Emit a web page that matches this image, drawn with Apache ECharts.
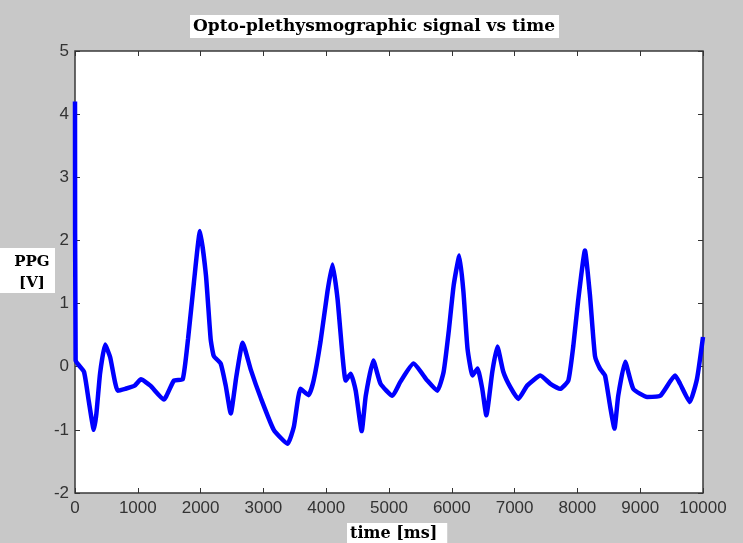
<!DOCTYPE html>
<html>
<head>
<meta charset="utf-8">
<script src="https://cdn.jsdelivr.net/npm/echarts@6/dist/echarts.min.js"></script>
<style>
  html, body { margin: 0; padding: 0; background: #c8c8c8; }
  #chart { width: 743px; height: 543px; }
</style>
</head>
<body>
<div id="chart"></div>
<script>
// values (time in ms, PPG in V)
var time_ms = [0, 10, 143, 220, 300, 340, 400, 480, 560, 680, 800, 950, 1050, 1200, 1415, 1575, 1715,
    1800, 1895, 1990, 2085, 2160, 2210, 2320, 2400, 2480, 2570, 2670, 2800, 2960, 3165, 3385, 3485,
    3590, 3720, 3800, 3910, 4020, 4100, 4180, 4260, 4310, 4390, 4470, 4565, 4630, 4750, 4865, 5055,
    5180, 5390, 5610, 5770, 5870, 5950, 6030, 6120, 6185, 6250, 6330, 6410, 6485, 6550, 6645, 6725,
    6820, 6930, 7060, 7200, 7410, 7570, 7725, 7855, 7935, 8010, 8120, 8200, 8280, 8360, 8440, 8520,
    8590, 8650, 8760, 8890, 9110, 9320, 9555, 9635, 9790, 9905, 10000];
var ppg_v = [4.2, 0.1, -0.08, -0.55, -1.0, -0.75, -0.1, 0.35, 0.15, -0.38, -0.35, -0.3, -0.2, -0.3, -0.52, -0.22, -0.2,
    0.44, 1.35, 2.15, 1.45, 0.44, 0.17, 0.05, -0.3, -0.74, -0.15, 0.38, -0.05, -0.5, -1.0, -1.22, -0.95,
    -0.35, -0.45, -0.22, 0.4, 1.19, 1.62, 1.08, 0.17, -0.22, -0.11, -0.38, -1.02, -0.46, 0.1, -0.27, -0.46,
    -0.24, 0.05, -0.22, -0.38, -0.08, 0.55, 1.29, 1.76, 1.19, 0.29, -0.14, -0.03, -0.35, -0.77, -0.08, 0.32,
    -0.08, -0.32, -0.51, -0.3, -0.14, -0.27, -0.35, -0.22, 0.33, 1.03, 1.84, 1.13, 0.17, -0.03, -0.14, -0.62,
    -0.98, -0.46, 0.08, -0.35, -0.48, -0.46, -0.14, -0.27, -0.56, -0.19, 0.47];
var x_ticks = [0, 1000, 2000, 3000, 4000, 5000, 6000, 7000, 8000, 9000, 10000];
var y_ticks = [-2, -1, 0, 1, 2, 3, 4, 5];

var chart = document.getElementById('chart');
var myChart = echarts.init(chart);

var points = [];
for (var i = 0; i < time_ms.length; i++) {
    points.push([time_ms[i], ppg_v[i]]);
}

var serifBold = { fontFamily: 'DejaVu Serif', fontWeight: 'bold', color: '#000' };
var tickLabel = { fontFamily: 'Liberation Sans', fontSize: 17, color: '#333' };
var tickStyle = { show: true, inside: true, length: 5, lineStyle: { color: '#333', width: 1 } };

var option = {
    backgroundColor: '#c8c8c8',
    animation: false,
    title: [
        {
            text: 'Opto-plethysmographic signal vs time',
            left: 190, top: 15,
            backgroundColor: '#fff',
            padding: [1, 4, 1, 3],
            textStyle: Object.assign({ fontSize: 17, lineHeight: 21 }, serifBold)
        },
        {
            text: 'time [ms]',
            left: 347, top: 523,
            backgroundColor: '#fff',
            padding: [1, 10, 2, 3],
            textStyle: Object.assign({ fontSize: 16, lineHeight: 19 }, serifBold)
        }
    ],
    // y label box: "PPG" over "[V]"
    graphic: [
        {
            type: 'rect',
            shape: { x: 0, y: 248, width: 55, height: 45 },
            style: { fill: '#fff' }
        },
        {
            type: 'text', x: 32, y: 255,
            style: { text: 'PPG', textAlign: 'center', textVerticalAlign: 'top',
                     font: 'bold 15px "DejaVu Serif"', fill: '#000' }
        },
        {
            type: 'text', x: 32, y: 276,
            style: { text: '[V]', textAlign: 'center', textVerticalAlign: 'top',
                     font: 'bold 15px "DejaVu Serif"', fill: '#000' }
        }
    ],
    grid: {
        left: 75, top: 51, width: 628, height: 442,
        show: true, backgroundColor: '#fff',
        borderColor: '#3a3a3a', borderWidth: 1.5
    },
    xAxis: [
        {
            type: 'value', min: 0, max: 10000, interval: 1000,
            axisLine: { show: false, onZero: false },
            axisTick: tickStyle,
            splitLine: { show: false },
            axisLabel: Object.assign({ margin: 7, formatter: function (v) {
                return x_ticks.indexOf(v) >= 0 ? String(v) : '';
            } }, tickLabel)
        },
        {
            type: 'value', position: 'top', min: 0, max: 10000, interval: 1000,
            axisLine: { show: false, onZero: false },
            axisTick: tickStyle,
            splitLine: { show: false },
            axisLabel: { show: false }
        }
    ],
    yAxis: [
        {
            type: 'value', min: -2, max: 5, interval: 1,
            axisLine: { show: false, onZero: false },
            axisTick: tickStyle,
            splitLine: { show: false },
            axisLabel: Object.assign({ margin: 6, formatter: function (v) {
                return y_ticks.indexOf(v) >= 0 ? String(v) : '';
            } }, tickLabel)
        },
        {
            type: 'value', position: 'right', min: -2, max: 5, interval: 1,
            axisLine: { show: false, onZero: false },
            axisTick: tickStyle,
            splitLine: { show: false },
            axisLabel: { show: false }
        }
    ],
    series: [
        {
            name: 'PPG',
            type: 'line',
            data: points,
            showSymbol: false,
            smooth: 0.15,
            clip: true,
            lineStyle: { color: '#0000ff', width: 4.5 },
            z: 3
        }
    ]
};

myChart.setOption(option);
</script>
</body>
</html>
